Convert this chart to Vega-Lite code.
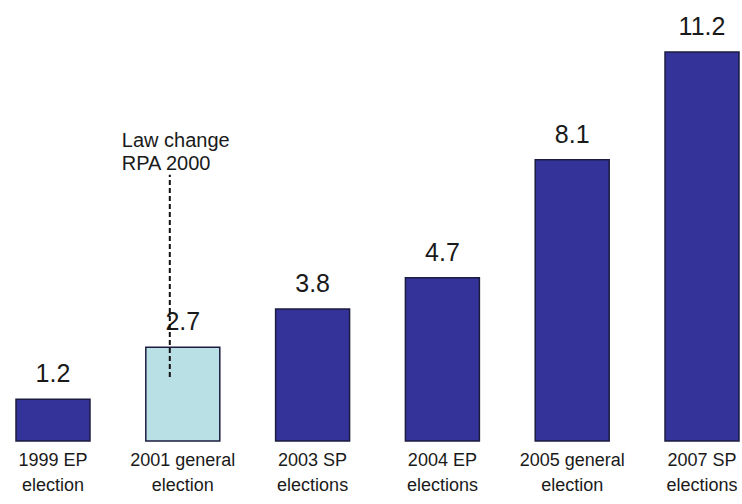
{
  "$schema": "https://vega.github.io/schema/vega-lite/v6.json",
  "width": 742,
  "height": 441,
  "autosize": {"type": "none"},
  "padding": {"left": 0, "top": 0, "right": 0, "bottom": 63},
  "background": "white",
  "config": {"view": {"stroke": null}},
  "datasets": {
    "bars": [
      {"election": "1999 EP|election", "value": 1.2, "kind": "normal"},
      {"election": "2001 general|election", "value": 2.7, "kind": "law"},
      {"election": "2003 SP|elections", "value": 3.8, "kind": "normal"},
      {"election": "2004 EP|elections", "value": 4.7, "kind": "normal"},
      {"election": "2005 general|election", "value": 8.1, "kind": "normal"},
      {"election": "2007 SP|elections", "value": 11.2, "kind": "normal"}
    ],
    "note": [
      {"election": "2001 general|election", "y1": 1.84, "y2": 7.67, "ty": 8.47, "label": "Law change\nRPA 2000"}
    ]
  },
  "layer": [
    {
      "data": {"name": "bars"},
      "mark": {"type": "bar", "stroke": "#1c1c40", "strokeWidth": 1.5},
      "encoding": {
        "x": {
          "field": "election", "type": "nominal", "sort": null,
          "scale": {"range": [16, 739], "paddingInner": 0.43, "paddingOuter": 0},
          "axis": {
            "title": null, "domain": false, "ticks": false,
            "labelAngle": 0, "labelExpr": "split(datum.label, '|')",
            "labelFont": "Liberation Sans", "labelFontSize": 18,
            "labelColor": "#1a1a1a", "labelPadding": 10, "labelLineHeight": 25,
            "labelBaseline": "top"
          }
        },
        "y": {
          "field": "value", "type": "quantitative",
          "scale": {"domain": [0, 12.7], "nice": false},
          "axis": null
        },
        "color": {
          "field": "kind", "type": "nominal",
          "scale": {"domain": ["normal", "law"], "range": ["#333399", "#b9e1e5"]},
          "legend": null
        }
      }
    },
    {
      "data": {"name": "bars"},
      "mark": {"type": "text", "font": "Liberation Sans", "fontSize": 25, "baseline": "alphabetic", "dy": -17, "color": "#1a1a1a"},
      "encoding": {
        "x": {"field": "election", "type": "nominal", "sort": null},
        "y": {"field": "value", "type": "quantitative"},
        "text": {"field": "value", "type": "quantitative", "format": ".1f"}
      }
    },
    {
      "data": {"name": "note"},
      "mark": {"type": "rule", "strokeDash": [5, 3], "strokeWidth": 2, "color": "#111111", "xOffset": -13},
      "encoding": {
        "x": {"field": "election", "type": "nominal", "sort": null},
        "y": {"field": "y1", "type": "quantitative"},
        "y2": {"field": "y2"}
      }
    },
    {
      "data": {"name": "note"},
      "mark": {"type": "text", "font": "Liberation Sans", "fontSize": 20, "align": "left", "baseline": "alphabetic", "dx": -61, "lineBreak": "\n", "lineHeight": 23, "color": "#1a1a1a"},
      "encoding": {
        "x": {"field": "election", "type": "nominal", "sort": null},
        "y": {"field": "ty", "type": "quantitative"},
        "text": {"field": "label"}
      }
    }
  ]
}
